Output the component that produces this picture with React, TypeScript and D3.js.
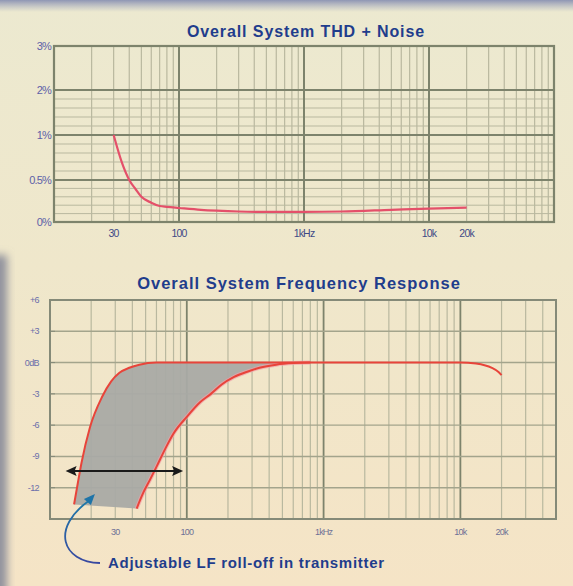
import React from 'react';
import * as d3 from 'd3';

// THD + noise (percent) vs frequency
const thdFreq = [30, 35, 40, 45, 50, 60, 70, 80, 100, 150, 200, 300, 500, 1000, 2000, 5000, 10000, 20000];
const thdPct = [1.0, 0.69, 0.5, 0.39, 0.3, 0.23, 0.19, 0.18, 0.167, 0.145, 0.135, 0.125, 0.12, 0.12, 0.125, 0.145, 0.16, 0.17];
const thdTicks = [0, 0.5, 1, 2, 3];
const thdTickLabels = ['0%', '0.5%', '1%', '2%', '3%'];
const thdMinor = [0.1, 0.2, 0.3, 0.4, 0.6, 0.7, 0.8, 0.9, 1.2, 1.4, 1.6, 1.8];

// frequency response, fastest and slowest LF roll-off setting (dB)
const upFreq = [15, 16, 17, 19.6, 24, 28, 32, 38, 45, 60, 100, 200, 500, 1000, 2000, 5000, 10000, 13000, 15000, 17000, 19000, 20000];
const upDb = [-13.6, -11.5, -9.6, -6.2, -3.3, -1.8, -1.0, -0.5, -0.2, 0, 0, 0, 0, 0, 0, 0, 0, -0.1, -0.25, -0.5, -0.9, -1.2];
const lowFreq = [43, 48, 54, 60, 70, 80, 100, 125, 150, 180, 220, 280, 340, 450, 600, 800];
const lowDb = [-14, -12.5, -11.2, -10, -8.2, -6.8, -5.2, -3.8, -3.0, -2.1, -1.4, -0.85, -0.5, -0.2, -0.05, 0];
const frTicks = [6, 3, 0, -3, -6, -9, -12];
const frTickLabels = ['+6', '+3', '0dB', '-3', '-6', '-9', '-12'];

const xTickVals = [30, 100, 1000, 10000, 20000];
const xTickLabels = ['30', '100', '1kHz', '10k', '20k'];

// LF roll-off adjustment range arrow
const rangeFreq = [13, 94];
const rangeDb = -10.4;
const noteTip = { f: 21.3, db: -12.6 };

const W = 573;
const H = 586;
const TITLE = '#1f3d8c';
const HEAVY = '#7d836c';
const MINOR = '#b9b89f';
const FONT = '"Liberation Sans", Arial, sans-serif';

const minorFreqs = (lo: number, hi: number) => {
  const out: number[] = [];
  for (let dec = lo; dec < hi; dec *= 10) for (let m = 2; m <= 9; m++) if (dec * m < hi) out.push(dec * m);
  return out;
};

type P = { f: number; v: number };

const App: React.FC = () => {
  // top chart
  const tx = d3.scaleLog().domain([10, 100000]).range([54, 554]);
  const ty = d3.scaleLinear().domain(thdTicks).range([222, 180, 135, 90, 46]);
  const thdData: P[] = thdFreq.map((f, i) => ({ f, v: thdPct[i] }));
  const thdLine = d3.line<P>().x(d => tx(d.f)).y(d => ty(d.v)).curve(d3.curveMonotoneX);

  // bottom chart
  const bx = d3.scaleLog().domain([10, 50000]).range([50, 556]);
  const by = d3.scaleLinear().domain([-15, 6]).range([519, 300]);
  const up: P[] = upFreq.map((f, i) => ({ f, v: upDb[i] }));
  const low: P[] = lowFreq.map((f, i) => ({ f, v: lowDb[i] }));
  const frLine = d3.line<P>().x(d => bx(d.f)).y(d => by(d.v)).curve(d3.curveMonotoneX);
  const upPart = up.filter(d => d.f <= 800);
  const fillPath = (frLine(upPart) || '') + (frLine(low.slice().reverse()) || '').replace(/^M/, 'L') + 'Z';

  const ay = by(rangeDb);
  const ax0 = bx(rangeFreq[0]);
  const ax1 = bx(rangeFreq[1]);
  const tipX = bx(noteTip.f);
  const tipY = by(noteTip.db);

  return (
    <svg width={W} height={H} style={{ position: 'absolute', left: 0, top: 0 }} fontFamily={FONT}>
      <defs>
        <linearGradient id="bg" x1="0" y1="0" x2="0" y2="1">
          <stop offset="0%" stopColor="#ece9d0" />
          <stop offset="45%" stopColor="#efe7cb" />
          <stop offset="100%" stopColor="#f5e4c6" />
        </linearGradient>
        <linearGradient id="topEdge" x1="0" y1="0" x2="0" y2="1">
          <stop offset="0%" stopColor="#8f96b4" />
          <stop offset="100%" stopColor="#a6abc0" stopOpacity="0" />
        </linearGradient>
        <linearGradient id="noteGrad" x1="0" y1="1" x2="0" y2="0">
          <stop offset="0%" stopColor="#3848a0" />
          <stop offset="100%" stopColor="#1e7aa8" />
        </linearGradient>
        <filter id="soft" x="-50%" y="-20%" width="200%" height="140%">
          <feGaussianBlur stdDeviation="4" />
        </filter>
      </defs>
      <rect width={W} height={H} fill="url(#bg)" />
      <rect width={W} height={12} fill="url(#topEdge)" />
      <rect x={-8} y={255} width={15} height={H - 230} fill="#8e909c" filter="url(#soft)" />

      {/* ---------- THD + Noise ---------- */}
      <text x={306} y={37} textAnchor="middle" fontWeight="bold" fontSize={16} letterSpacing={0.9} fill={TITLE}>
        Overall System THD + Noise
      </text>
      <g>
        {minorFreqs(10, 100000).map(f => (
          <line key={'tv' + f} x1={tx(f)} x2={tx(f)} y1={ty(3)} y2={ty(0)} stroke={MINOR} strokeWidth={1.2} />
        ))}
        {thdMinor.map(v => (
          <line key={'th' + v} x1={tx(10)} x2={tx(100000)} y1={ty(v)} y2={ty(v)} stroke={MINOR} strokeWidth={1} />
        ))}
        {[100, 1000, 10000].map(f => (
          <line key={'tV' + f} x1={tx(f)} x2={tx(f)} y1={ty(3)} y2={ty(0)} stroke={HEAVY} strokeWidth={2} />
        ))}
        {[0.5, 1, 2].map(v => (
          <line key={'tH' + v} x1={tx(10)} x2={tx(100000)} y1={ty(v)} y2={ty(v)} stroke={HEAVY} strokeWidth={2} />
        ))}
        <rect x={tx(10)} y={ty(3)} width={tx(100000) - tx(10)} height={ty(0) - ty(3)} fill="none" stroke={HEAVY} strokeWidth={2.2} />
        <path d={thdLine(thdData) || ''} fill="none" stroke="#e4506a" strokeWidth={2.2} />
        {thdTicks.map((v, i) => (
          <text key={'tl' + v} x={51} y={ty(v) + 4} textAnchor="end" fontSize={11} fill="#5d60a8" letterSpacing={-0.8}>
            {thdTickLabels[i]}
          </text>
        ))}
        {xTickVals.map((f, i) => (
          <text key={'tx' + f} x={tx(f)} y={237} textAnchor="middle" fontSize={10.5} fill="#3e4a86" letterSpacing={-0.8}>
            {xTickLabels[i]}
          </text>
        ))}
      </g>

      {/* ---------- Frequency Response ---------- */}
      <text x={299} y={289} textAnchor="middle" fontWeight="bold" fontSize={16.5} letterSpacing={1} fill={TITLE}>
        Overall System Frequency Response
      </text>
      <g>
        {minorFreqs(10, 50000).map(f => (
          <line key={'bv' + f} x1={bx(f)} x2={bx(f)} y1={by(6)} y2={by(-15)} stroke={MINOR} strokeWidth={1.2} />
        ))}
        {[100, 1000, 10000].map(f => (
          <line key={'bV' + f} x1={bx(f)} x2={bx(f)} y1={by(6)} y2={by(-15)} stroke={HEAVY} strokeWidth={1.8} />
        ))}
        {frTicks.filter(v => v < 6).map(v => (
          <line key={'bh' + v} x1={bx(10)} x2={bx(50000)} y1={by(v)} y2={by(v)} stroke="#a3a48c" strokeWidth={1.4} />
        ))}
        <rect x={bx(10)} y={by(6)} width={bx(50000) - bx(10)} height={by(-15) - by(6)} fill="none" stroke="#858a78" strokeWidth={2} />
        <path d={fillPath} fill="#a9aaa5" opacity={0.95} />
        <path d={frLine(low) || ''} fill="none" stroke="#f1a0a8" strokeWidth={4} opacity={0.7} />
        <path d={frLine(up) || ''} fill="none" stroke="#e8443a" strokeWidth={2} />
        <path d={frLine(low) || ''} fill="none" stroke="#e8443a" strokeWidth={2} />
        {frTicks.map((v, i) => (
          <g key={'bl' + v}>
            <line x1={bx(10)} x2={bx(10) + 5} y1={by(v)} y2={by(v)} stroke="#858a78" strokeWidth={1} />
            <text x={39} y={by(v) + 3} textAnchor="end" fontSize={9} fill="#6a6eaa" letterSpacing={-0.6}>
              {frTickLabels[i]}
            </text>
          </g>
        ))}
        {xTickVals.map((f, i) => (
          <text key={'bx' + f} x={bx(f)} y={535} textAnchor="middle" fontSize={9} fill="#6e7096" letterSpacing={-0.8}>
            {xTickLabels[i]}
          </text>
        ))}
        {/* adjustment range arrow */}
        <line x1={ax0 + 8} x2={ax1 - 8} y1={ay} y2={ay} stroke="#1a1a1a" strokeWidth={2} />
        <path d={`M${ax0},${ay} L${ax0 + 11},${ay - 5} L${ax0 + 9},${ay} L${ax0 + 11},${ay + 5} Z`} fill="#1a1a1a" />
        <path d={`M${ax1},${ay} L${ax1 - 11},${ay - 5} L${ax1 - 9},${ay} L${ax1 - 11},${ay + 5} Z`} fill="#1a1a1a" />
        {/* annotation */}
        <path
          d={`M100,563 C62,562 50,528 ${tipX - 5},${tipY + 6}`}
          fill="none"
          stroke="url(#noteGrad)"
          strokeWidth={1.8}
        />
        <path
          d={`M${tipX},${tipY} L${tipX - 11},${tipY + 5} L${tipX - 4},${tipY + 11} Z`}
          fill="#1e74a8"
        />
        <text x={108} y={568} fontWeight="bold" fontSize={15} letterSpacing={0.7} fill={TITLE}>
          Adjustable LF roll-off in transmitter
        </text>
      </g>
    </svg>
  );
};

export default App;
